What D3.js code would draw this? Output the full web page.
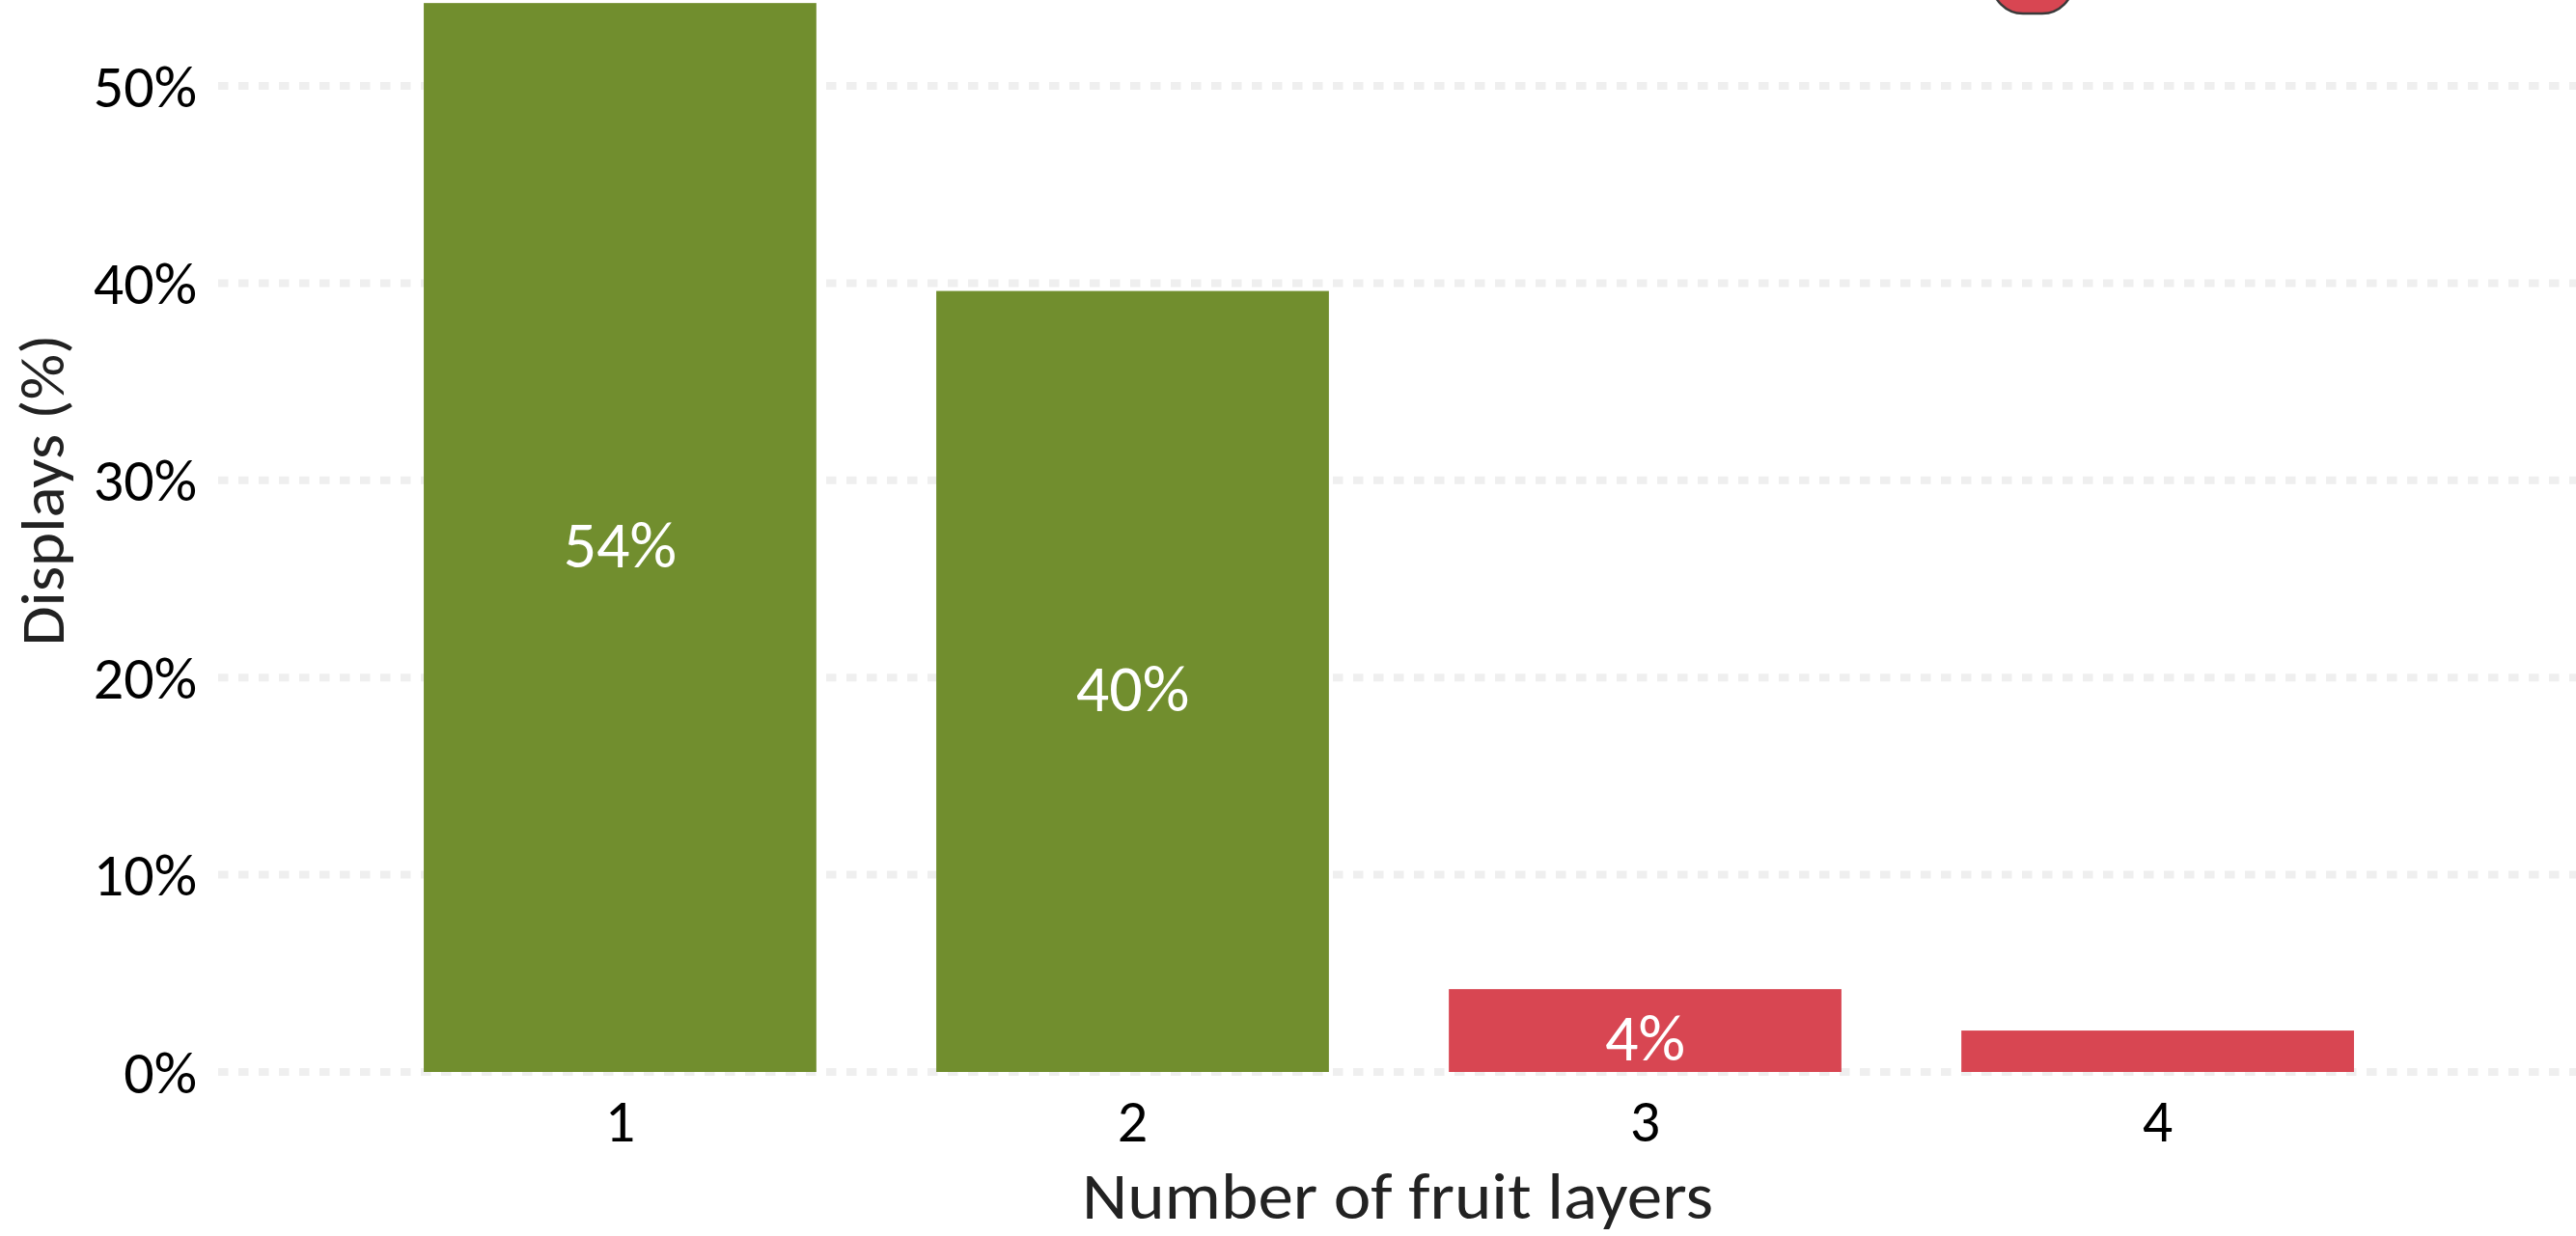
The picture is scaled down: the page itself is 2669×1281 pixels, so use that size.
<!DOCTYPE html>
<html>
<head>
<meta charset="utf-8">
<script src="https://cdn.jsdelivr.net/npm/d3@7"></script>
<style>
  html, body { margin: 0; padding: 0; background: #fff; }
  svg { display: block; }
  text { font-family: Carlito, Calibri, Lato, "Open Sans", sans-serif; }
</style>
</head>
<body>
<svg id="chart"></svg>
<script>
// ---- data ----
const categories = ["1", "2", "3", "4"];
const values = [54.2, 39.6, 4.2, 2.1];           // % of displays
const barGroups = ["good", "good", "bad", "bad"]; // colour group per bar
const yTicks = [0, 10, 20, 30, 40, 50];
const xTitle = "Number of fruit layers";
const yTitle = "Displays (%)";

// ---- layout ----
const W = 2669, H = 1281;
const svg = d3.select("#chart").attr("width", W).attr("height", H);

const colour = d3.scaleOrdinal().domain(["good", "bad"]).range(["#718E2E", "#D84652"]);

const x = d3.scaleBand()
  .domain(categories)
  .range([217.6, 2660.4])
  .paddingInner(0.234)
  .paddingOuter(0.417);

const y = d3.scaleLinear().domain([0, 50]).range([1111, 89]);

// gridlines (dotted)
svg.append("g").selectAll("line")
  .data(yTicks)
  .join("line")
  .attr("x1", 226).attr("x2", W)
  .attr("y1", d => y(d)).attr("y2", d => y(d))
  .attr("stroke", "#EFEFEF")
  .attr("stroke-width", 8)
  .attr("stroke-dasharray", "10.5,10.5");

// partial legend key cut off at top
svg.append("rect")
  .attr("x", 2064).attr("y", -70)
  .attr("width", 84).attr("height", 84)
  .attr("rx", 32)
  .attr("fill", colour("bad"))
  .attr("stroke", "#3a3a3a")
  .attr("stroke-width", 2.5);

// bars
svg.append("g").selectAll("rect")
  .data(values)
  .join("rect")
  .attr("x", (d, i) => x(categories[i]))
  .attr("width", x.bandwidth())
  .attr("y", d => y(d))
  .attr("height", d => y(0) - y(d))
  .attr("fill", (d, i) => colour(barGroups[i]));

// value labels
svg.append("g").selectAll("text")
  .data(values.map((v, i) => ({ v, c: categories[i] })).filter(d => d.v >= 3))
  .join("text")
  .attr("x", d => x(d.c) + x.bandwidth() / 2)
  .attr("y", d => (y(d.v) + y(0)) / 2 + 31)
  .attr("text-anchor", "middle")
  .attr("fill", "#ffffff")
  .attr("font-size", 68)
  .text(d => Math.round(d.v) + "%");

// y axis
const yAxis = d3.axisLeft(y).tickValues(yTicks).tickSize(0).tickPadding(0)
  .tickFormat(d => d + "%");
const gy = svg.append("g").attr("transform", "translate(204,0)").call(yAxis);
gy.select(".domain").remove();
gy.selectAll("text")
  .attr("font-size", 62)
  .attr("fill", "#000")
  .attr("dy", null)
  .attr("y", 21);

// x axis
const xAxis = d3.axisBottom(x).tickSize(0).tickPadding(0);
const gx = svg.append("g").attr("transform", "translate(0,1111)").call(xAxis);
gx.select(".domain").remove();
gx.selectAll("text")
  .attr("font-size", 62)
  .attr("fill", "#000")
  .attr("dy", null)
  .attr("y", 72);

// titles
svg.append("text")
  .attr("x", 1448)
  .attr("y", 1263)
  .attr("text-anchor", "middle")
  .attr("font-size", 68)
  .attr("textLength", 654)
  .attr("lengthAdjust", "spacingAndGlyphs")
  .attr("fill", "#222")
  .text(xTitle);

svg.append("text")
  .attr("transform", "translate(66,508) rotate(-90)")
  .attr("text-anchor", "middle")
  .attr("font-size", 63)
  .attr("textLength", 323)
  .attr("lengthAdjust", "spacingAndGlyphs")
  .attr("fill", "#222")
  .text(yTitle);
</script>
</body>
</html>
